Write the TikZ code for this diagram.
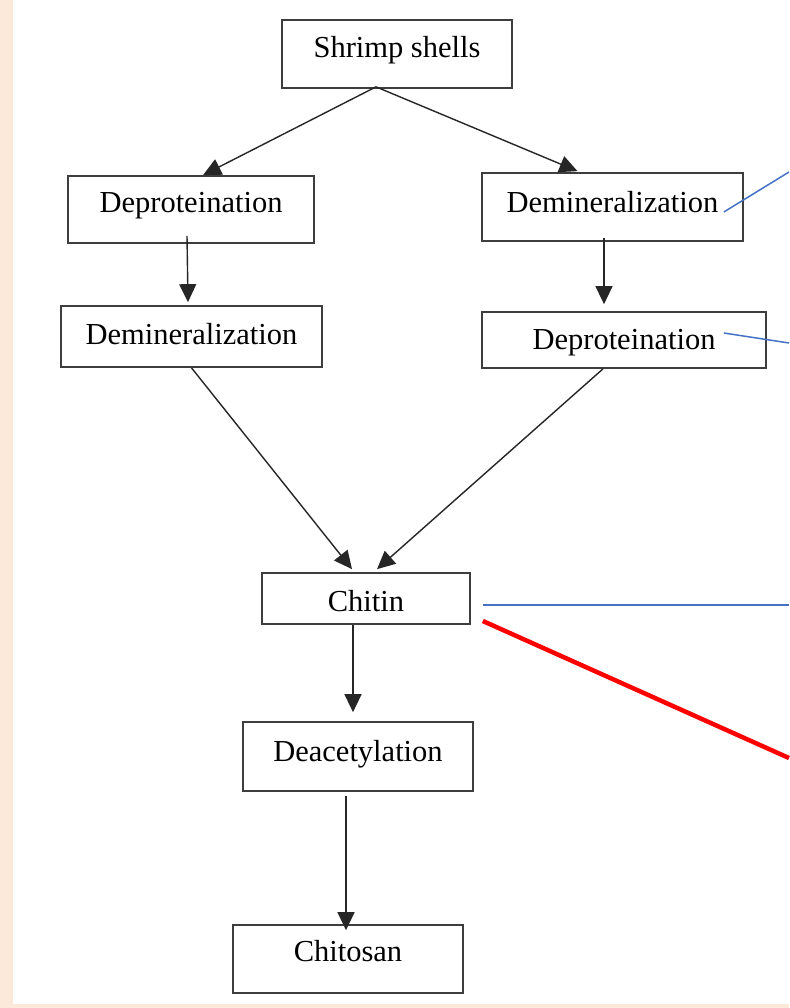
\documentclass[tikz,border=0pt]{standalone}
\usepackage{fontspec}
\setmainfont{Liberation Serif}
\usetikzlibrary{arrows.meta}
\definecolor{beige}{RGB}{253,233,217}
\definecolor{lnblue}{RGB}{68,114,196}
\definecolor{boxgray}{RGB}{62,62,62}
\begin{document}
\begin{tikzpicture}[x=1pt,y=-1pt,
  stepbox/.style={draw=boxgray, line width=1.7pt, inner sep=0pt, fill=white,
    font=\fontsize{30.5}{35}\selectfont, text height=30pt, text depth={10.4pt+2*(#1)}},
  stepbox/.default=4,
  arr/.style={draw=black!85, line width=1.4pt, -{Triangle[length=18pt,width=17pt]}},
  blueline/.style={draw=lnblue, line width=1.5pt},
  redline/.style={draw=red, line width=4.5pt}]
\useasboundingbox (0,0) rectangle (789,1008);
\fill[white] (0,0) rectangle (789,1008);
\fill[beige] (0,0) rectangle (12.5,1008);
\fill[beige] (0,1004) rectangle (789,1008);

\node[stepbox=6,   minimum width=230pt, minimum height=68pt] (ss)  at (397,54)    {Shrimp shells};
\node[stepbox=6.5, minimum width=246pt, minimum height=67pt] (ldp) at (191,209.5) {Deproteination};
\node[stepbox=1.5, minimum width=261pt, minimum height=61pt] (ldm) at (191.5,336.5) {Demineralization};
\node[stepbox=4,   minimum width=261pt, minimum height=68pt] (rdm) at (612.5,207) {Demineralization};
\node[stepbox=0,   minimum width=284pt, minimum height=56pt] (rdp) at (624,340)   {Deproteination};
\node[stepbox=-3,  minimum width=208pt, minimum height=51pt] (ch)  at (366,598.5) {Chitin};
\node[stepbox=5,   minimum width=230pt, minimum height=69pt] (dc)  at (358,756.5) {Deacetylation};
\node[stepbox=7,   minimum width=230pt, minimum height=68pt] (cs)  at (348,959)   {Chitosan};

\draw[arr] ([xshift=-21pt,yshift=2pt]ss.south) -- ([xshift=12pt]ldp.north);
\draw[arr] ([xshift=-21pt,yshift=2pt]ss.south) -- ([xshift=-35pt,yshift=1pt]rdm.north);
\draw[arr] ([xshift=-4pt,yshift=8pt]ldp.south) -- ([xshift=-3.5pt,yshift=3pt]ldm.north);
\draw[arr] ([xshift=-8.5pt,yshift=4pt]rdm.south) -- ([xshift=-20pt,yshift=7pt]rdp.north);
\draw[arr] (ldm.south) -- ([xshift=-14pt,yshift=3pt]ch.north);
\draw[arr] ([xshift=-21pt]rdp.south) -- ([xshift=11pt,yshift=3pt]ch.north);
\draw[arr] ([xshift=-13pt]ch.south) -- ([xshift=-5pt,yshift=9pt]dc.north);
\draw[arr] ([xshift=-12pt,yshift=-4pt]dc.south) -- ([xshift=-2pt,yshift=-6pt]cs.north);

\coordinate (b1) at (789,172);
\coordinate (b2) at (789,343);
\coordinate (b3) at (789,605);
\coordinate (r1) at (789,758);
\draw[blueline] ([xshift=-20pt,yshift=-5pt]rdm.east) -- (b1);
\draw[blueline] ([xshift=-43pt,yshift=7pt]rdp.east) -- (b2);
\draw[blueline] ([xshift=12pt,yshift=-6.5pt]ch.east) -- (b3);
\draw[redline] ([xshift=12pt,yshift=-22.5pt]ch.east) -- (r1);
\end{tikzpicture}
\end{document}
